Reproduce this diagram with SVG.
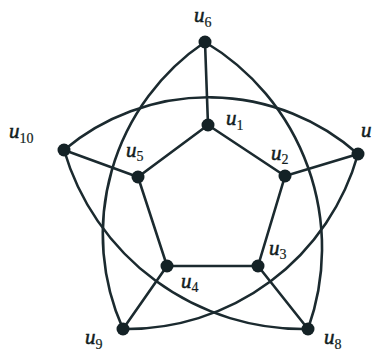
<svg xmlns="http://www.w3.org/2000/svg" width="374" height="353" viewBox="0 0 374 353">
<style>
.e{fill:none;stroke:#1b2a2f;stroke-width:2.6;stroke-linecap:round}
.n{fill:#142226}
.l{font-family:"Liberation Serif",serif;font-style:italic;font-size:21px;fill:#111c20;stroke:#111c20;stroke-width:0.5}
.s{font-family:"Liberation Serif",serif;font-size:14px;font-style:normal;stroke-width:0.2}
</style>
<rect width="374" height="353" fill="#ffffff"/>
<g id="edges">
<path class="e" d="M205,42 L208,125"/>
<path class="e" d="M208,125 L138,177 L167,266 L258,266 L285,176 Z"/>
<path class="e" d="M64,150 L138,177"/>
<path class="e" d="M358,154 L285,176"/>
<path class="e" d="M167,266 L123,329"/>
<path class="e" d="M258,266 L308,329"/>
<path class="e" d="M64,150 A225,225 0 0 1 358,154"/>
<path class="e" d="M205,42 A232,232 0 0 0 123,329"/>
<path class="e" d="M205,42 A240,240 0 0 1 308,329"/>
<path class="e" d="M64,150 A249,249 0 0 0 308,329"/>
<path class="e" d="M123,329 A240,240 0 0 0 358,154"/>
</g>
<g id="u1"><circle class="n" cx="208" cy="125" r="6.5"/><text class="l" x="226" y="125">u<tspan class="s" dy="5">1</tspan></text></g>
<g id="u2"><circle class="n" cx="285" cy="176" r="6.5"/><text class="l" x="271" y="160">u<tspan class="s" dy="4">2</tspan></text></g>
<g id="u3"><circle class="n" cx="258" cy="266" r="6.5"/><text class="l" x="269" y="255">u<tspan class="s" dy="4">3</tspan></text></g>
<g id="u4"><circle class="n" cx="167" cy="266" r="6.5"/><text class="l" x="181" y="288">u<tspan class="s" dy="4">4</tspan></text></g>
<g id="u5"><circle class="n" cx="138" cy="177" r="6.5"/><text class="l" x="126" y="157">u<tspan class="s" dy="4">5</tspan></text></g>
<g id="u6"><circle class="n" cx="205" cy="42" r="6.5"/><text class="l" x="194" y="22">u<tspan class="s" dy="5">6</tspan></text></g>
<g id="u7"><circle class="n" cx="358" cy="154" r="6.5"/><text class="l" x="361" y="137">u</text></g>
<g id="u8"><circle class="n" cx="308" cy="329" r="6.5"/><text class="l" x="324" y="344">u<tspan class="s" dy="5">8</tspan></text></g>
<g id="u9"><circle class="n" cx="123" cy="329" r="6.5"/><text class="l" x="85" y="344">u<tspan class="s" dy="5">9</tspan></text></g>
<g id="u10"><circle class="n" cx="64" cy="150" r="6.5"/><text class="l" x="9" y="138">u<tspan class="s" dy="5">10</tspan></text></g>
</svg>
